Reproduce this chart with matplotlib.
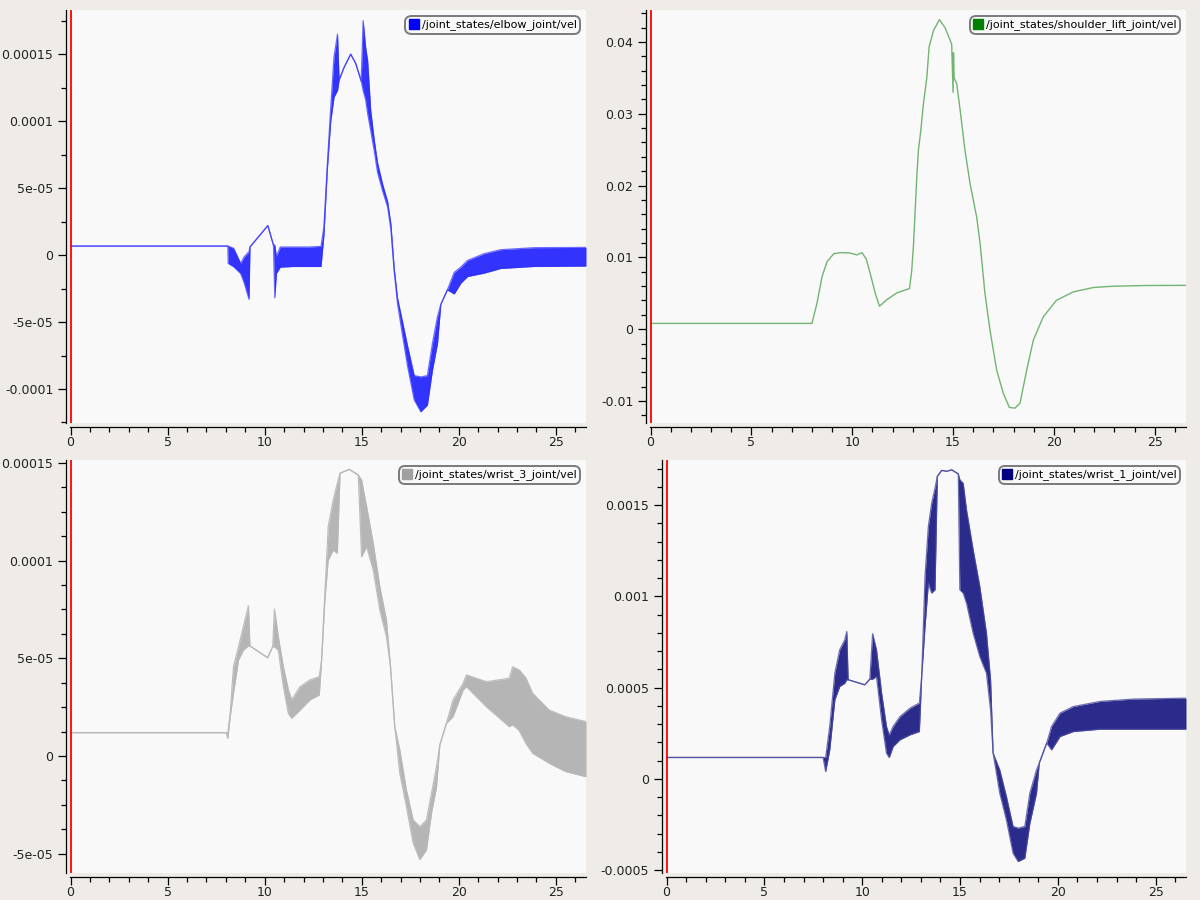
import matplotlib
matplotlib.use("Agg")
import matplotlib.pyplot as plt
from matplotlib.lines import Line2D
from matplotlib.ticker import MultipleLocator, FuncFormatter
import numpy as np

# ---- data (time in s, values scaled as noted) ----
# elbow_joint/vel, units of 1e-5; hi/lo = upper/lower edge of the chatter band
elbow_t = [0, 8.1, 8.12, 8.4, 8.76, 8.95, 9.19, 9.24, 10.16, 10.45, 10.52, 10.6, 10.8, 11.5,
           12.3, 12.9, 13.05, 13.23, 13.4, 13.57, 13.75, 13.83, 14.1, 14.43, 14.69, 14.97,
           15.07, 15.2, 15.3, 15.46, 15.64, 15.81, 16.07, 16.33, 16.5, 16.67, 16.84, 17.1,
           17.36, 17.7, 18.04, 18.38, 18.64, 18.9, 19.07, 19.41, 19.76, 20.1, 20.45, 21.3,
           22.16, 23.87, 26.55]
elbow_hi = [0.67, 0.67, 0.67, 0.5, -0.62, -0.12, 0.25, 0.6, 2.2, 0.75, 0.75, -0.12, 0.6, 0.6,
            0.6, 0.65, 2.1, 6.84, 11.0, 14.8, 16.5, 13.06, 14.05, 15.0, 14.3, 13.0,
            17.5, 15.5, 14.55, 10.8, 8.6, 6.9, 5.3, 4.0, 2.3, -1.0, -3.2, -5.0,
            -6.8, -9.0, -9.1, -9.0, -6.6, -4.6, -3.7, -2.6, -1.3, -0.9, -0.4, 0.1,
            0.4, 0.55, 0.57]
elbow_lo = [0.67, 0.67, -0.62, -0.87, -1.37, -2.1, -3.3, 0.6, 2.2, 0.75, -3.2, -1.37, -0.9, -0.85,
            -0.85, -0.85, 1.5, 6.5, 10.0, 11.8, 12.3, 13.06, 14.05, 15.0, 14.3, 13.0,
            12.3, 11.6, 10.6, 9.3, 7.8, 6.2, 4.8, 3.6, 1.9, -1.2, -3.6, -6.0,
            -8.3, -10.8, -11.7, -11.2, -8.6, -6.6, -3.7, -2.6, -2.9, -2.1, -1.6, -1.35,
            -1.0, -0.85, -0.82]

# shoulder_lift_joint/vel, units of 1e-2
shoulder_t = [0, 8.0, 8.25, 8.5, 8.75, 9.08, 9.41, 9.9, 10.23, 10.48, 10.69, 10.89, 11.14,
              11.35, 11.71, 12.21, 12.84, 12.95, 13.04, 13.12, 13.2, 13.28, 13.4, 13.53,
              13.7, 13.81, 14.03, 14.32, 14.6, 14.93, 15.0, 15.02, 15.05, 15.18, 15.35,
              15.59, 15.84, 16.17, 16.34, 16.58, 16.83, 17.16, 17.49, 17.79, 18.07, 18.32,
              18.65, 18.98, 19.47, 20.13, 20.96, 21.95, 22.94, 24.59, 26.55]
shoulder_v = [0.08, 0.08, 0.36, 0.73, 0.94, 1.05, 1.066, 1.06, 1.034, 1.066, 0.98, 0.775, 0.5,
              0.32, 0.41, 0.505, 0.566, 0.82, 1.19, 1.655, 2.12, 2.49, 2.77, 3.14,
              3.51, 3.93, 4.16, 4.31, 4.2, 3.97, 3.3, 3.85, 3.5, 3.42, 3.05,
              2.49, 2.03, 1.56, 1.19, 0.5, -0.014, -0.57, -0.894, -1.09, -1.1, -1.03,
              -0.57, -0.153, 0.171, 0.403, 0.519, 0.58, 0.598, 0.608, 0.61]

# wrist_3_joint/vel, units of 1e-5
wrist3_t = [0, 8.01, 8.1, 8.22, 8.39, 8.65, 8.9, 9.16, 9.24, 10.15, 10.41, 10.5, 10.7, 10.96,
            11.22, 11.39, 11.82, 12.33, 12.81, 12.93, 13.1, 13.27, 13.53, 13.74, 13.88, 14.36,
            14.82, 14.99, 15.25, 15.59, 15.93, 16.27, 16.48, 16.7, 16.96, 17.3, 17.65, 17.99,
            18.33, 18.59, 18.85, 19.02, 19.36, 19.7, 20.22, 20.39, 21.42, 22.6, 22.77, 23.11,
            23.45, 23.8, 24.65, 25.5, 26.55]
wrist3_hi = [1.19, 1.19, 1.19, 2.18, 4.57, 5.59, 6.62, 7.69, 5.63, 5.03, 5.59, 7.52, 6.11, 4.57,
             3.38, 2.87, 3.55, 3.89, 4.06, 4.91, 8.33, 11.74, 13.1, 13.96, 14.47, 14.67,
             14.38, 14.13, 12.76, 10.88, 8.66, 6.96, 4.57, 1.5, 0.31, -1.74, -3.28, -3.62,
             -3.28, -1.91, -0.55, 0.56, 1.67, 2.87, 3.72, 4.15, 3.8, 3.98, 4.57, 4.4,
             4.0, 3.21, 2.35, 2.01, 1.76]
wrist3_lo = [1.19, 1.19, 0.9, 2.0, 3.21, 4.91, 5.42, 5.63, 5.63, 5.03, 5.59, 5.59, 5.42, 3.55,
             2.18, 1.93, 2.35, 2.87, 3.12, 4.91, 8.0, 10.03, 10.54, 10.37, 14.47, 14.67,
             14.38, 10.2, 10.71, 9.52, 7.47, 6.11, 4.57, 1.5, -0.89, -2.59, -4.47, -5.3,
             -4.81, -2.93, -1.57, 0.56, 1.67, 2.01, 3.38, 3.55, 2.52, 1.5, 1.6, 1.3,
             0.65, 0.14, -0.37, -0.8, -1.06]

# wrist_1_joint/vel, units of 1e-4
wrist1_t = [0, 8.0, 8.13, 8.34, 8.6, 8.85, 9.11, 9.21, 9.28, 10.13, 10.39, 10.53, 10.73, 10.99,
            11.24, 11.38, 11.58, 11.93, 12.44, 12.92, 13.04, 13.21, 13.38, 13.55, 13.72, 13.84,
            14.06, 14.32, 14.57, 14.91, 14.99, 15.16, 15.33, 15.67, 16.01, 16.35, 16.56, 16.69,
            17.03, 17.37, 17.71, 17.97, 18.31, 18.57, 18.91, 19.05, 19.43, 19.68, 20.11, 20.79,
            22.16, 23.87, 26.55]
wrist1_hi = [1.17, 1.17, 1.17, 2.87, 5.79, 7.07, 7.62, 8.07, 5.43, 5.15, 5.46, 7.95, 7.07, 4.7,
             2.87, 2.4, 2.87, 3.41, 3.87, 4.15, 5.61, 11.09, 13.83, 15.1, 15.93, 16.57,
             16.9, 16.85, 16.93, 16.71, 16.39, 16.2, 14.74, 12.55, 10.54, 7.98, 5.43, 1.41,
             0.49, -0.97, -2.61, -2.7, -2.61, -0.78, 0.49, 0.86, 1.96, 2.87, 3.6, 3.96,
             4.24, 4.37, 4.42]
wrist1_lo = [1.17, 1.17, 0.4, 1.59, 4.33, 5.06, 5.24, 5.43, 5.43, 5.15, 5.46, 5.46, 5.61, 3.23,
             1.41, 1.17, 1.77, 2.14, 2.41, 2.59, 5.61, 8.35, 10.72, 10.18, 10.36, 16.57,
             16.9, 16.85, 16.93, 16.71, 10.36, 10.18, 9.63, 7.98, 6.7, 5.79, 3.78, 1.41,
             -0.78, -2.25, -4.07, -4.53, -4.35, -2.43, -0.78, 0.86, 1.96, 1.59, 2.32, 2.59,
             2.72, 2.72, 2.72]

BG = "#efebe7"
FACE = "#f9f9f9"
W, H = 1200, 900


def fmt_g(v, _pos):
    return "%g" % round(v, 12)


def make_axes(fig, left, top, right, bottom):
    ax = fig.add_axes([left / W, 1 - bottom / H, (right - left) / W, (bottom - top) / H])
    ax.set_facecolor(FACE)
    for side in ("top", "right"):
        ax.spines[side].set_visible(False)
    for side in ("left", "bottom"):
        ax.spines[side].set_position(("outward", 3))
        ax.spines[side].set_linewidth(0.9)
    ax.tick_params(which="major", length=5.5, width=0.9, labelsize=9, colors="black",
                   labelcolor="#222222")
    ax.tick_params(which="minor", length=3.5, width=0.9)
    ax.tick_params(axis="x", which="major", pad=1.0)
    ax.set_xlim(-0.03, 26.55)
    ax.xaxis.set_major_locator(MultipleLocator(5))
    ax.xaxis.set_minor_locator(MultipleLocator(1))
    ax.xaxis.set_major_formatter(FuncFormatter(fmt_g))
    ax.yaxis.set_major_formatter(FuncFormatter(fmt_g))
    ax.axvline(0, color="red", lw=1.3, zorder=5)
    return ax


def band(ax, t, hi, lo, scale, fill_c, line_c, fill_a, line_a):
    hi = np.asarray(hi) * scale
    lo = np.asarray(lo) * scale
    ax.fill_between(t, lo, hi, color=fill_c, alpha=fill_a, lw=0)
    ax.plot(t, hi, color=line_c, lw=0.9, alpha=line_a)
    ax.plot(t, lo, color=line_c, lw=0.9, alpha=line_a)


def add_legend(ax, label, color):
    h = Line2D([], [], marker="s", color=color, linestyle="none", markersize=7)
    leg = ax.legend([h], [label], loc="upper right", fontsize=8, frameon=True, fancybox=True,
                    handlelength=0.8, handletextpad=0.3, borderpad=0.25,
                    borderaxespad=0.6, facecolor=FACE, framealpha=1)
    frame = leg.get_frame()
    frame.set_edgecolor("#7a7a7a")
    frame.set_linewidth(1.4)
    frame.set_boxstyle("round,pad=0.1,rounding_size=0.6")


fig = plt.figure(figsize=(12, 9), dpi=100, facecolor=BG)

# top left: elbow
ax = make_axes(fig, 70, 10, 586, 423)
band(ax, elbow_t, elbow_hi, elbow_lo, 1e-5, "#1010ff", "#3030ff", 0.85, 0.7)
ax.set_ylim(-1.254e-4, 1.83e-4)
ax.yaxis.set_major_locator(MultipleLocator(5e-5))
ax.yaxis.set_minor_locator(MultipleLocator(2.5e-5))
add_legend(ax, "/joint_states/elbow_joint/vel", "#0000ff")

# top right: shoulder lift
ax = make_axes(fig, 650, 10, 1186, 423)
ax.plot(shoulder_t, np.asarray(shoulder_v) * 1e-2, color="#2a902a", lw=1.0, alpha=0.65)
ax.set_ylim(-0.01307, 0.04445)
ax.yaxis.set_major_locator(MultipleLocator(0.01))
ax.yaxis.set_minor_locator(MultipleLocator(0.002))
add_legend(ax, "/joint_states/shoulder_lift_joint/vel", "#008000")

# bottom left: wrist 3
ax = make_axes(fig, 70, 460, 586, 873)
band(ax, wrist3_t, wrist3_hi, wrist3_lo, 1e-5, "#a9a9a9", "#b8b8b8", 0.85, 0.9)
ax.set_ylim(-5.99e-5, 1.515e-4)
ax.yaxis.set_major_locator(MultipleLocator(5e-5))
ax.yaxis.set_minor_locator(MultipleLocator(1.25e-5))
add_legend(ax, "/joint_states/wrist_3_joint/vel", "#a0a0a0")

# bottom right: wrist 1
ax = make_axes(fig, 666, 460, 1186, 873)
band(ax, wrist1_t, wrist1_hi, wrist1_lo, 1e-4, "#141480", "#4a4aa0", 0.9, 0.8)
ax.set_ylim(-5.16e-4, 1.747e-3)
ax.yaxis.set_major_locator(MultipleLocator(5e-4))
ax.yaxis.set_minor_locator(MultipleLocator(1e-4))
add_legend(ax, "/joint_states/wrist_1_joint/vel", "#000080")

fig.savefig("out.png", dpi=100, facecolor=BG)
